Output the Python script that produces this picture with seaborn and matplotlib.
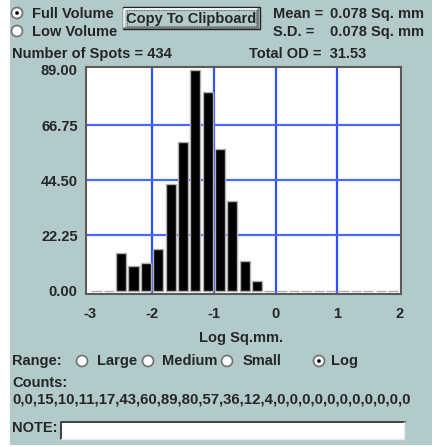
import numpy as np
import pandas as pd
import matplotlib
matplotlib.use('Agg')
import matplotlib.pyplot as plt
from matplotlib.patches import Rectangle, Circle
import seaborn as sns

# 데이터
bin_edges = [round(-3 + 0.2 * i, 1) for i in range(26)]
counts = [0, 0, 15, 10, 11, 17, 43, 60, 89, 80, 57, 36, 12, 4,
          0, 0, 0, 0, 0, 0, 0, 0, 0, 0, 0]
y_ticks = [0.0, 22.25, 44.5, 66.75, 89.0]
x_ticks = [-3, -2, -1, 0, 1, 2]
mean_text = "0.078 Sq. mm"
sd_text = "0.078 Sq. mm"
n_spots = 434
total_od = 31.53
range_options = ["Large", "Medium", "Small", "Log"]

df = pd.DataFrame({
    'center': [bin_edges[i] + 0.1 for i in range(len(counts))],
    'count': counts,
})

sns.set_style('white')
plt.rcParams['font.family'] = ['Liberation Sans', 'DejaVu Sans']
plt.rcParams['font.weight'] = 'bold'
plt.rcParams['axes.unicode_minus'] = False

BG = '#b3cacb'
W, H = 435, 447
fig = plt.figure(figsize=(W / 100, H / 100), dpi=100, facecolor='white')

# 배경 (픽셀 좌표)
bg = fig.add_axes([0, 0, 1, 1], zorder=0)
bg.set_xlim(0, W)
bg.set_ylim(H, 0)
bg.axis('off')
bg.add_patch(Rectangle((10, 0), 422, 445, facecolor=BG, edgecolor='none'))

fs = 10.5


def radio(x, y, checked=False):
    bg.add_patch(Circle((x, y), 5.5, facecolor='white', edgecolor='#707070', lw=1.2))
    if checked:
        bg.add_patch(Circle((x, y), 1.8, facecolor='black', edgecolor='none'))


radio(17, 13, True)
bg.text(32, 18, "Full Volume", fontsize=fs, va='baseline', ha='left')
radio(17, 31)
bg.text(32, 36, "Low Volume", fontsize=fs, va='baseline', ha='left')

# 버튼
bg.add_patch(Rectangle((123, 7), 137, 22, facecolor=BG, edgecolor='#202020', lw=1))
bg.plot([124.5, 124.5, 258.5], [27.5, 8.5, 8.5], color='white', lw=1.2)
bg.plot([124.5, 258.5, 258.5], [27.5, 27.5, 8.5], color='#6a6a6a', lw=1.2)
bg.add_patch(Rectangle((127, 10), 129, 16, facecolor='none', edgecolor='#404040',
                       lw=0.6, linestyle=(0, (1, 1))))
bg.text(191.5, 23.5, "Copy To Clipboard", fontsize=10.5, va='baseline', ha='center')

bg.text(273, 18, "Mean =", fontsize=fs, va='baseline', ha='left')
bg.text(330, 18, mean_text, fontsize=fs, va='baseline', ha='left')
bg.text(273, 36, "S.D. =", fontsize=fs, va='baseline', ha='left')
bg.text(330, 36, sd_text, fontsize=fs, va='baseline', ha='left')
bg.text(12, 58, f"Number of Spots = {n_spots}", fontsize=fs, va='baseline', ha='left')
bg.text(249, 58, f"Total OD =  {total_od:.2f}", fontsize=fs, va='baseline', ha='left')

bg.text(241, 342, "Log Sq.mm.", fontsize=fs, va='baseline', ha='center')
bg.text(12, 365, "Range:", fontsize=fs, va='baseline', ha='left')
for cx, tx, label in zip([82, 148, 227, 319], [97, 162, 243, 331], range_options):
    radio(cx, 361, label == "Log")
    bg.text(tx, 365, label, fontsize=fs, va='baseline', ha='left')
bg.text(12, 387, "Counts:", fontsize=fs, va='baseline', ha='left')
bg.text(12, 404, ",".join(str(c) for c in counts), fontsize=10.8, va='baseline', ha='left')
bg.text(12, 432, "NOTE:", fontsize=fs, va='baseline', ha='left')
bg.add_patch(Rectangle((61, 421), 344, 18, facecolor='white', edgecolor='none'))
bg.plot([61.5, 61.5, 405], [439, 421.5, 421.5], color='#303030', lw=1.3)
bg.plot([61.5, 404.5, 404.5], [439, 439, 421.5], color='#e8e8e8', lw=1.0)

# 히스토그램
ax = fig.add_axes([86 / W, 1 - 294 / H, 315 / W, 227 / H], zorder=2)
ax.set_facecolor('white')
sns.histplot(data=df, x='center', weights='count', bins=bin_edges, shrink=0.82,
             color='black', edgecolor='#b0b0b0', linewidth=1, alpha=1, ax=ax, zorder=3)
ax.set_xlim(-3.07, 2.03)
ax.set_ylim(-1.35, 90.2)
for xv in [-2, -1, 0, 1]:
    ax.axvline(xv, color='#3050ff', lw=1.6, zorder=1)
for yv in y_ticks[1:4]:
    ax.axhline(yv, color='#4a6aff', lw=1.6, zorder=1)
ax.set_xticks(x_ticks)
ax.set_xticklabels([str(v) for v in x_ticks])
ax.set_yticks(y_ticks)
ax.set_yticklabels([f"{v:.2f}" for v in y_ticks])
ax.tick_params(axis='both', length=0, labelsize=fs)
ax.tick_params(axis='x', pad=9)
ax.tick_params(axis='y', pad=6)
ax.set_xlabel('')
ax.set_ylabel('')
ax.grid(False)
for s in ax.spines.values():
    s.set_color('#5a5a5a')
    s.set_linewidth(1.5)
    s.set_zorder(5)

plt.savefig('out.png', dpi=100, facecolor='white')
